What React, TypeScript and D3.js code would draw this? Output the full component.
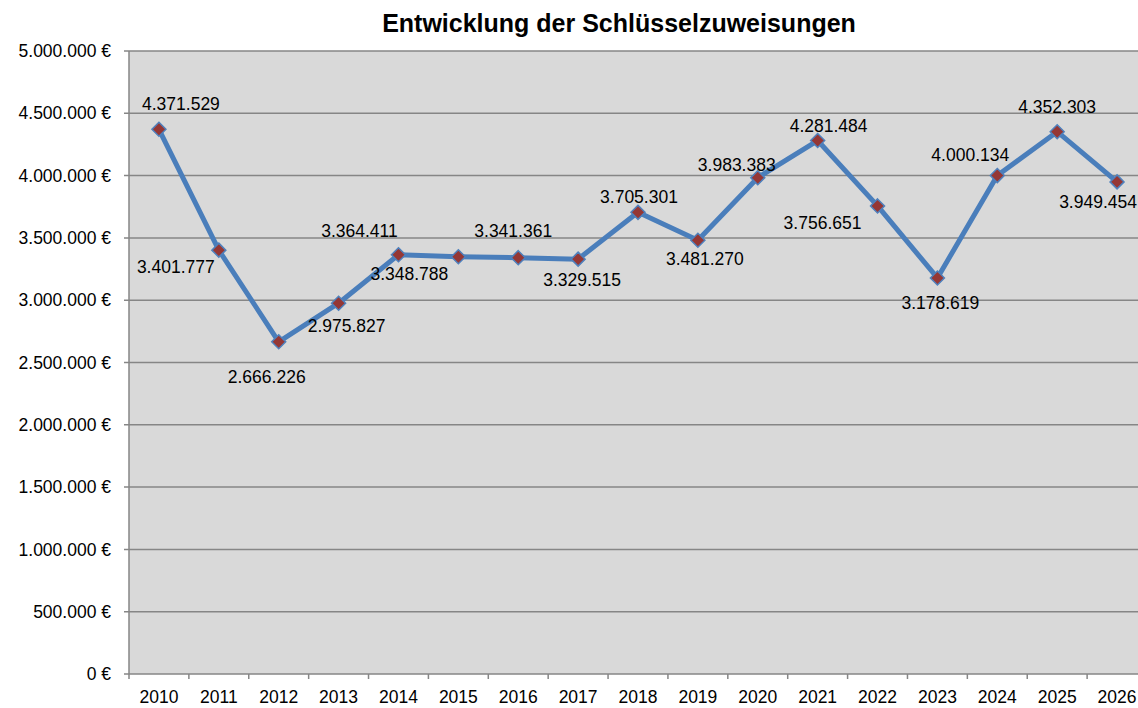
import React from "react";
import { scaleBand, scaleLinear, line, range } from "d3";

const years = [
  "2010", "2011", "2012", "2013", "2014", "2015", "2016", "2017", "2018",
  "2019", "2020", "2021", "2022", "2023", "2024", "2025", "2026",
];
const amounts = [
  4371529, 3401777, 2666226, 2975827, 3364411, 3348788, 3341361, 3329515,
  3705301, 3481270, 3983383, 4281484, 3756651, 3178619, 4000134, 4352303,
  3949454,
];
const yTicks = range(0, 5000001, 500000);
// label offsets from the marker (dx, dy to text center)
const labelDx = [22, -43, -12, 8, -39, -49, -5, 4, 1, 7, -21, 11, -55, 3, -27, 0, -19];
const labelDy = [-25, 17, 35, 23, -24, 17, -27, 21, -15, 19, -13, -15, 17, 25, -21, -25, 20];

const fmt = (v: number) =>
  String(v).replace(/\B(?=(\d{3})+(?!\d))/g, ".");

export default function App() {
  const width = 1138,
    height = 708,
    margin = { top: 51, right: -9, bottom: 34, left: 129 },
    innerWidth = width - margin.left - margin.right,
    innerHeight = height - margin.top - margin.bottom;

  const x = scaleBand().domain(years).range([0, innerWidth]);
  const y = scaleLinear().domain([0, 5000000]).range([innerHeight, 0]);
  const cx = (i: number) => x(years[i])! + x.bandwidth() / 2;

  const path = line<number>()
    .x((_, i) => cx(i))
    .y((d) => y(d))(amounts);

  const font = "'Liberation Sans', Arial, sans-serif";
  const grid = "#868686";

  return (
    <svg
      width={width}
      height={height}
      style={{ position: "absolute", left: 0, top: 0, background: "#fff" }}
      fontFamily={font}
    >
      <text
        x={619}
        y={32}
        textAnchor="middle"
        fontWeight="bold"
        fontSize={25}
        fill="#000"
      >
        Entwicklung der Schlüsselzuweisungen
      </text>
      <g transform={`translate(${margin.left},${margin.top})`}>
        <rect width={innerWidth} height={innerHeight} fill="#D9D9D9" />
        {yTicks.map((t) => (
          <g key={t} transform={`translate(0,${y(t)})`}>
            <line x1={-5} x2={innerWidth} stroke={grid} strokeWidth={1.5} />
            <text
              x={-18}
              dy="0.35em"
              textAnchor="end"
              fontSize={17.5}
              fill="#000"
            >
              {fmt(t)} €
            </text>
          </g>
        ))}
        <line y1={0} y2={innerHeight} stroke={grid} strokeWidth={1.5} />
        {years.map((yr, i) => (
          <g key={yr}>
            <line
              x1={x(yr)!}
              x2={x(yr)!}
              y1={innerHeight}
              y2={innerHeight + 5}
              stroke={grid}
              strokeWidth={1.5}
            />
            <text
              x={cx(i)}
              y={innerHeight + 29}
              textAnchor="middle"
              fontSize={17.5}
              fill="#000"
            >
              {yr}
            </text>
          </g>
        ))}
        <path
          d={path ?? ""}
          fill="none"
          stroke="#4A7EBB"
          strokeWidth={5}
          strokeLinejoin="round"
        />
        {amounts.map((v, i) => (
          <g key={i} transform={`translate(${cx(i)},${y(v)})`}>
            <path
              d="M0,-7 L7,0 L0,7 L-7,0 Z"
              fill="#953735"
              stroke="#4F81BD"
              strokeWidth={1.5}
            />
          </g>
        ))}
        {amounts.map((v, i) => (
          <text
            key={"l" + i}
            x={cx(i) + labelDx[i]}
            y={y(v) + labelDy[i]}
            dy="0.35em"
            textAnchor="middle"
            fontSize={17.5}
            fill="#000"
          >
            {fmt(v)}
          </text>
        ))}
      </g>
    </svg>
  );
}
